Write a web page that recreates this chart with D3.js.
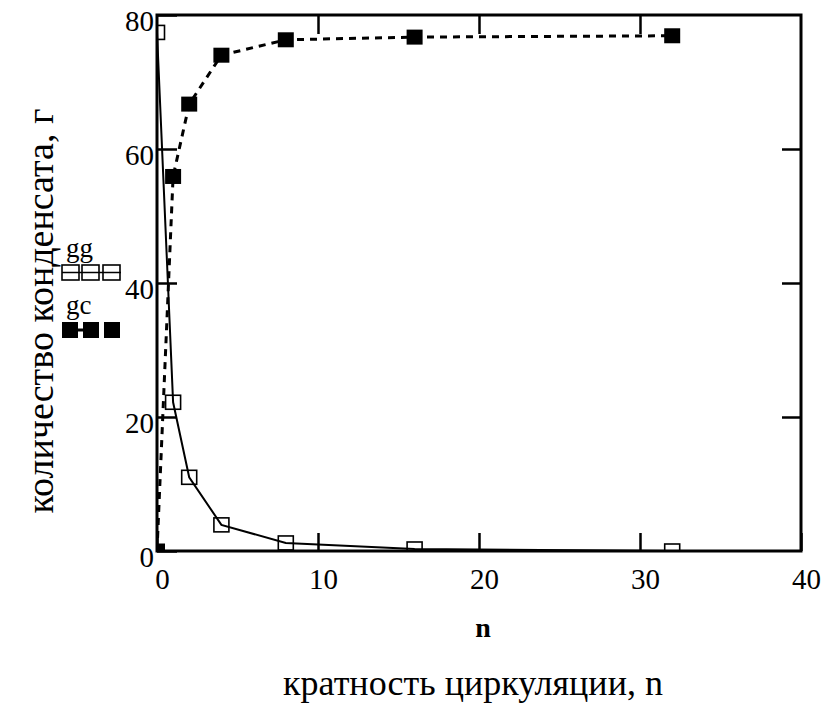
<!DOCTYPE html>
<html><head><meta charset="utf-8">
<script src="https://cdn.jsdelivr.net/npm/d3@7"></script>
<style>html,body{margin:0;padding:0;background:#fff;} svg{display:block;}</style>
</head><body><svg id="c" width="822" height="713"></svg>
<script>
// ---- data ----
const nValues  = [0, 1, 2, 4, 8, 16, 32];
const ggValues = [77.4, 22.2, 11.0, 3.9, 1.2, 0.3, 0];
const gcValues = [0, 55.9, 66.7, 74.0, 76.3, 76.7, 76.9];
const xTicks = [0, 10, 20, 30, 40];
const yTicks = [0, 20, 40, 60, 80];
const seriesNames = ["gg", "gc"];
const xAxisName = "n";
const xTitle = "кратность циркуляции, n";
const yTitle = "количество конденсата, г";

// ---- layout ----
const svg = d3.select("#c");
const L = 157, R = 801, T = 15, B = 551;
const FONT = "'Liberation Serif', 'Times New Roman', serif";
const x = d3.scaleLinear().domain([0, 40]).range([L, R]);
const y = d3.scaleLinear().domain([0, 80]).range([B, T]);

svg.append("rect").attr("width", 822).attr("height", 713).attr("fill", "#fff");

svg.append("defs").append("clipPath").attr("id", "plot")
  .append("rect").attr("x", L).attr("y", T).attr("width", R - L).attr("height", B - T);

const gg = nValues.map((n, i) => ({n, v: ggValues[i]}));
const gc = nValues.map((n, i) => ({n, v: gcValues[i]}));
const line = d3.line().x(d => x(d.n)).y(d => y(d.v)).curve(d3.curveLinear);

const plot = svg.append("g").attr("clip-path", "url(#plot)");
plot.append("path").datum(gg).attr("d", line)
  .attr("fill", "none").attr("stroke", "#000").attr("stroke-width", 2);
plot.append("path").datum(gc).attr("d", line)
  .attr("fill", "none").attr("stroke", "#000").attr("stroke-width", 3)
  .attr("stroke-dasharray", "7,6");

plot.selectAll("rect.gg").data(gg).enter().append("rect").attr("class", "gg")
  .attr("x", d => x(d.n) - 7.5).attr("y", d => y(d.v) - 7)
  .attr("width", 15).attr("height", 14)
  .attr("fill", "none").attr("stroke", "#000").attr("stroke-width", 1.6);
plot.selectAll("rect.gc").data(gc).enter().append("rect").attr("class", "gc")
  .attr("x", d => x(d.n) - 8).attr("y", d => y(d.v) - 7.5)
  .attr("width", 16).attr("height", 15).attr("fill", "#000");

// ---- axes ----
function styleAxis(g) {
  g.select(".domain").remove();
  g.selectAll(".tick line").attr("stroke", "#000").attr("stroke-width", 2.5);
  g.selectAll("text").attr("fill", "#000").style("font-family", FONT).style("font-size", "29px");
}
svg.append("g").attr("transform", `translate(0,${B})`)
  .call(d3.axisBottom(x).tickValues(xTicks).tickSize(-18).tickSizeOuter(0).tickPadding(17).tickFormat(d3.format("d")))
  .call(styleAxis)
  .call(g => g.selectAll("text").attr("dx", 5));
svg.append("g").attr("transform", `translate(0,${T})`)
  .call(d3.axisTop(x).tickValues(xTicks.slice(1, -1)).tickSize(-19).tickSizeOuter(0).tickFormat(""))
  .call(styleAxis);
svg.append("g").attr("transform", `translate(${L},0)`)
  .call(d3.axisLeft(y).tickValues(yTicks).tickSize(-20).tickSizeOuter(0).tickPadding(3).tickFormat(d3.format("d")))
  .call(styleAxis)
  .call(g => g.selectAll("text").attr("dy", "0.32em").attr("transform", "translate(0,6)"));
svg.append("g").attr("transform", `translate(${R},0)`)
  .call(d3.axisRight(y).tickValues(yTicks.slice(1, -1)).tickSize(-19).tickSizeOuter(0).tickFormat(""))
  .call(styleAxis);

// frame
svg.append("rect").attr("x", L).attr("y", T).attr("width", R - L).attr("height", B - T)
  .attr("fill", "none").attr("stroke", "#000").attr("stroke-width", 3);

// ---- legend ----
const lg = svg.append("g");
lg.append("text").attr("x", 66).attr("y", 257).text(seriesNames[0])
  .style("font-family", FONT).style("font-size", "27px");
lg.append("line").attr("x1", 62).attr("x2", 121).attr("y1", 272.5).attr("y2", 272.5)
  .attr("stroke", "#000").attr("stroke-width", 1.5);
[62, 82, 103].forEach(px => lg.append("rect").attr("x", px).attr("y", 265).attr("width", 17).attr("height", 15)
  .attr("fill", "none").attr("stroke", "#000").attr("stroke-width", 1.6));
lg.append("text").attr("x", 66).attr("y", 314).text(seriesNames[1])
  .style("font-family", FONT).style("font-size", "27px");
lg.append("line").attr("x1", 70).attr("x2", 90).attr("y1", 330).attr("y2", 330)
  .attr("stroke", "#000").attr("stroke-width", 3);
[62, 83, 104].forEach(px => lg.append("rect").attr("x", px).attr("y", 322).attr("width", 16).attr("height", 16)
  .attr("fill", "#000"));

// ---- titles ----
svg.append("text").attr("x", 483).attr("y", 637).attr("text-anchor", "middle")
  .style("font-family", FONT).style("font-size", "28px").style("font-weight", "bold").text(xAxisName);
svg.append("text").attr("x", 473).attr("y", 695).attr("text-anchor", "middle")
  .style("font-family", FONT).style("font-size", "36px").text(xTitle);
svg.append("text").attr("transform", "translate(53,311) rotate(-90)").attr("text-anchor", "middle")
  .style("font-family", FONT).style("font-size", "38px").text(yTitle);
</script>
</body></html>
